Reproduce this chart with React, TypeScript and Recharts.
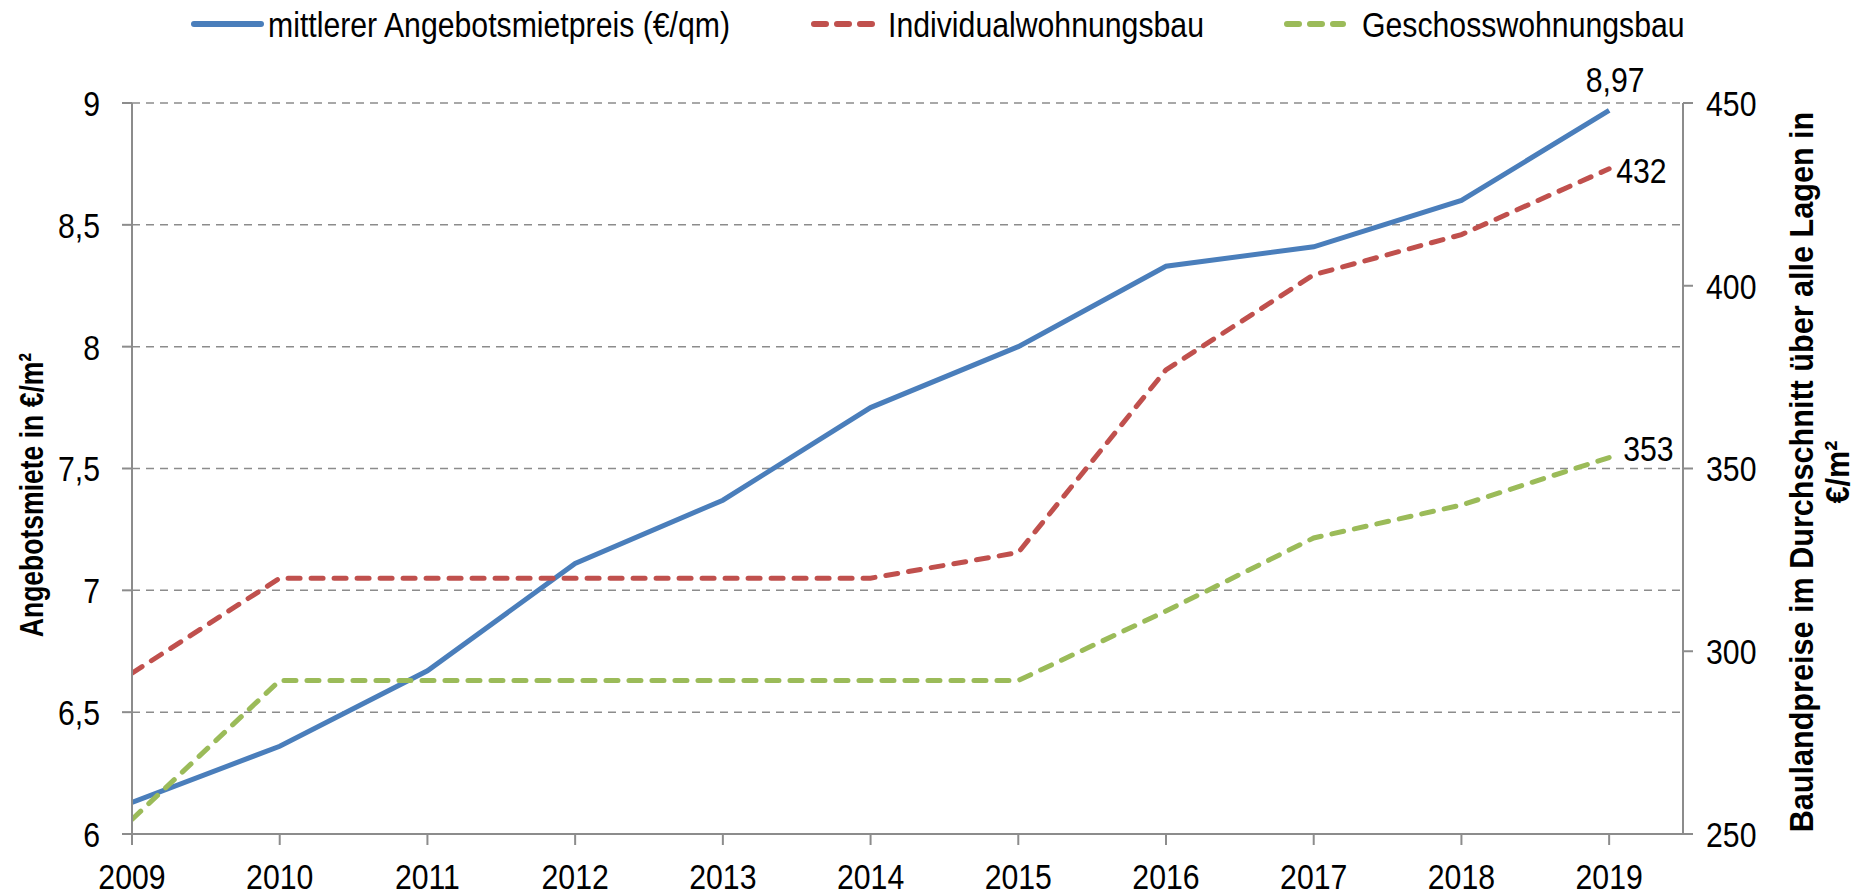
import React from "react";
import { CartesianGrid, Label, Line, LineChart, XAxis, YAxis } from "recharts";

const years = [2009, 2010, 2011, 2012, 2013, 2014, 2015, 2016, 2017, 2018, 2019];
const mietpreis = [6.13, 6.36, 6.67, 7.11, 7.37, 7.75, 8.0, 8.33, 8.41, 8.6, 8.97];
const individual = [294, 320, 320, 320, 320, 320, 327, 377, 403, 414, 432];
const geschoss = [254, 292, 292, 292, 292, 292, 292, 311, 331, 340, 353];

const leftTicks = [6, 6.5, 7, 7.5, 8, 8.5, 9];
const rightTicks = [250, 300, 350, 400, 450];

// no narrow font installed, so squeeze Liberation Sans horizontally
const FONT = "'Liberation Sans', Arial, sans-serif";
const SQ = 0.84;
const SIZE = 36;
const AXIS = "#8c8c8c";
const BLUE = "#4a7ebb";
const RED = "#c0504d";
const GREEN = "#9bbb59";

const data = years.map((year, i) => ({
  year,
  miete: mietpreis[i],
  individual: individual[i],
  geschoss: geschoss[i],
}));

const last = years.length - 1;
const comma = (v: number) => String(v).replace(".", ",");

function Narrow({ x, y, anchor, dy, children }: any) {
  return (
    <g transform={`translate(${x},${y}) scale(${SQ},1)`}>
      <text x={0} y={0} dy={dy} textAnchor={anchor} fontFamily={FONT} fontSize={SIZE} fill="#000">
        {children}
      </text>
    </g>
  );
}

const xTick = (p: any) => (
  <Narrow x={p.x} y={p.y} anchor="middle" dy="0.71em">
    {p.payload.value}
  </Narrow>
);
const leftTick = (p: any) => (
  <Narrow x={p.x} y={p.y} anchor="end" dy="0.36em">
    {comma(p.payload.value)}
  </Narrow>
);
const rightTick = (p: any) => (
  <Narrow x={p.x} y={p.y} anchor="start" dy="0.36em">
    {p.payload.value}
  </Narrow>
);

function endLabel(fmt: (v: number) => string, dx: number, dy: number, anchor: string) {
  return (props: any) => {
    if (props.index !== last) return null;
    return (
      <Narrow x={props.x + dx} y={props.y + dy} anchor={anchor} dy="0.36em">
        {fmt(props.value)}
      </Narrow>
    );
  };
}

const legendItems = [
  { label: "mittlerer Angebotsmietpreis (€/qm)", color: BLUE, dashed: false, line: [191, 264], text: 268 },
  { label: "Individualwohnungsbau", color: RED, dashed: true, line: [811, 875], text: 888 },
  { label: "Geschosswohnungsbau", color: GREEN, dashed: true, line: [1284, 1346], text: 1362 },
];

export default function App() {
  return (
    <div style={{ position: "relative", width: 1861, height: 896, background: "#fff" }}>
      <style>{"body{margin:0}"}</style>
      <svg width={1861} height={50} style={{ position: "absolute", left: 0, top: 0 }}>
        {legendItems.map((item) => (
          <g key={item.label}>
            <line
              x1={item.line[0] + 3}
              y1={24}
              x2={item.line[1] - 3}
              y2={24}
              stroke={item.color}
              strokeWidth={6}
              strokeLinecap="round"
              strokeDasharray={item.dashed ? "12 11" : undefined}
            />
            <Narrow x={item.text} y={24} anchor="start" dy="0.36em">
              {item.label}
            </Narrow>
          </g>
        ))}
      </svg>
      <LineChart width={1861} height={896} data={data} margin={{ top: 103, right: 0, bottom: 0, left: 0 }}>
        <CartesianGrid
          yAxisId="left"
          vertical={false}
          stroke={AXIS}
          strokeWidth={1.5}
          strokeDasharray="8 6"
        />
        <XAxis
          dataKey="year"
          type="number"
          domain={[2009, 2019.5]}
          allowDataOverflow
          ticks={years}
          height={62}
          axisLine={{ stroke: AXIS, strokeWidth: 2 }}
          tickLine={{ stroke: AXIS, strokeWidth: 2 }}
          tickSize={11}
          tickMargin={18}
          tick={xTick}
        />
        <YAxis
          yAxisId="left"
          domain={[6, 9]}
          ticks={leftTicks}
          width={132}
          axisLine={{ stroke: AXIS, strokeWidth: 2 }}
          tickLine={{ stroke: AXIS, strokeWidth: 2 }}
          tickSize={10}
          tickMargin={22}
          tick={leftTick}
        >
          <Label
            content={() => (
              <text
                transform="translate(31 495) rotate(-90) scale(0.78,1)"
                textAnchor="middle"
                dominantBaseline="central"
                fontFamily={FONT}
                fontWeight="bold"
                fontSize={34}
                fill="#000"
              >
                Angebotsmiete in €/m²
              </text>
            )}
          />
        </YAxis>
        <YAxis
          yAxisId="right"
          orientation="right"
          domain={[250, 450]}
          ticks={rightTicks}
          width={178}
          axisLine={{ stroke: AXIS, strokeWidth: 2 }}
          tickLine={{ stroke: AXIS, strokeWidth: 2 }}
          tickSize={10}
          tickMargin={13}
          tick={rightTick}
        >
          <Label
            content={() => (
              <text
                transform="translate(1818 472) rotate(-90) scale(0.9,1)"
                textAnchor="middle"
                fontFamily={FONT}
                fontWeight="bold"
                fontSize={34}
                fill="#000"
              >
                <tspan x={0} y={-5}>Baulandpreise im Durchschnitt über alle Lagen in</tspan>
                <tspan x={0} y={31}>€/m²</tspan>
              </text>
            )}
          />
        </YAxis>
        <Line
          yAxisId="left"
          dataKey="miete"
          stroke={BLUE}
          strokeWidth={5}
          dot={false}
          isAnimationActive={false}
          label={endLabel(comma, 6, -31, "middle")}
        />
        <Line
          yAxisId="right"
          dataKey="individual"
          stroke={RED}
          strokeWidth={5}
          strokeDasharray="12 11"
          strokeLinecap="round"
          dot={false}
          isAnimationActive={false}
          label={endLabel(String, 7, 1, "start")}
        />
        <Line
          yAxisId="right"
          dataKey="geschoss"
          stroke={GREEN}
          strokeWidth={5}
          strokeDasharray="12 11"
          strokeLinecap="round"
          dot={false}
          isAnimationActive={false}
          label={endLabel(String, 14, -9, "start")}
        />
      </LineChart>
    </div>
  );
}
